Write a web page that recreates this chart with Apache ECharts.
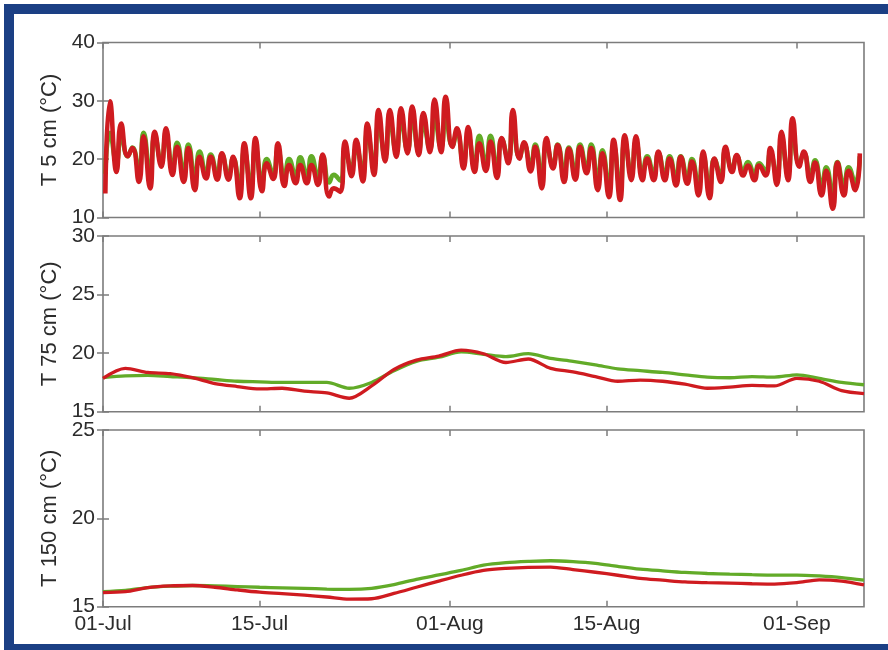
<!DOCTYPE html>
<html>
<head>
<meta charset="utf-8">
<script src="https://cdn.jsdelivr.net/npm/echarts@6/dist/echarts.min.js"></script>
<style>
  html, body { margin: 0; padding: 0; background: #ffffff; overflow: hidden; }
  #chart { width: 888px; height: 650px; }
</style>
</head>
<body>
<div id="chart"></div>
<script>
// Time axis: days counted from 01-Jul
const tickDays = [0, 14, 31, 45, 62];
const tickLabels = ['01-Jul', '15-Jul', '01-Aug', '15-Aug', '01-Sep'];
const depthNames = ['T 5 cm (°C)', 'T 75 cm (°C)', 'T 150 cm (°C)'];

// 5 cm depth: daily minimum (early morning) and maximum (afternoon), 01-Jul .. 06-Sep
const red5Min = [14.1, 17.8, 20.5, 16.1, 15.0, 18.7, 17.3, 16.1, 14.7, 16.7,
                 16.5, 16.5, 13.3, 13.3, 14.5, 16.6, 15.4, 15.9, 15.9, 15.6,
                 13.6, 14.4, 17.1, 16.2, 17.3, 19.6, 20.4, 21.0, 20.7, 21.2,
                 21.2, 22.1, 18.4, 17.8, 18.0, 16.8, 19.3, 20.1, 17.9, 15.0,
                 18.4, 16.1, 16.5, 17.6, 14.7, 13.5, 13.0, 16.4, 16.4, 16.4,
                 16.4, 15.5, 15.8, 13.8, 13.3, 16.1, 17.8, 17.2, 16.4, 17.2,
                 15.6, 16.4, 18.7, 16.1, 13.8, 11.5, 13.8, 14.7];
const red5Max = [29.9, 26.1, 21.9, 23.9, 24.7, 25.3, 22.1, 21.9, 20.4, 20.4,
                 21.0, 20.4, 22.7, 23.6, 19.3, 22.7, 19.0, 19.0, 19.0, 20.8,
                 15.0, 23.0, 23.3, 26.1, 28.4, 28.4, 28.7, 29.0, 27.9, 30.2,
                 30.7, 25.3, 25.5, 22.7, 23.0, 23.6, 28.4, 22.9, 22.1, 23.6,
                 22.4, 21.8, 22.1, 21.9, 21.0, 23.3, 24.1, 23.9, 20.1, 21.3,
                 20.1, 20.4, 19.6, 21.3, 20.1, 22.1, 20.7, 18.9, 18.9, 21.9,
                 24.7, 27.0, 21.3, 19.4, 18.0, 19.4, 18.0, 21.0];
const green5Min = [17.5, 19.5, 20.5, 18.0, 17.5, 19.5, 18.5, 17.8, 16.8, 17.5,
                   17.5, 17.3, 15.5, 15.5, 16.0, 17.5, 17.0, 17.2, 17.2, 17.0,
                   16.0, 16.3, 18.5, 18.0, 19.0, 20.5, 21.3, 21.5, 21.5, 21.8,
                   22.0, 22.3, 19.5, 19.0, 19.2, 18.3, 20.0, 20.3, 19.0, 17.0,
                   19.0, 17.8, 17.8, 18.5, 16.5, 15.5, 15.0, 17.5, 17.5, 17.5,
                   17.3, 16.8, 17.0, 15.5, 15.3, 17.2, 18.3, 18.0, 17.5, 18.0,
                   17.0, 17.5, 19.3, 17.3, 15.5, 13.8, 15.5, 16.0];
const green5Max = [24.5, 24.0, 22.0, 24.5, 24.0, 24.0, 22.8, 22.5, 21.3, 20.8,
                   20.8, 20.2, 21.5, 22.0, 20.0, 21.5, 20.0, 20.3, 20.5, 20.5,
                   17.3, 21.5, 22.0, 24.5, 26.0, 26.5, 26.5, 27.0, 26.0, 27.0,
                   27.0, 24.5, 24.0, 24.0, 24.0, 23.5, 25.5, 22.5, 22.5, 22.5,
                   22.5, 22.0, 22.5, 22.5, 21.5, 22.5, 23.0, 23.0, 20.5, 21.0,
                   20.5, 20.5, 20.0, 20.5, 20.0, 21.5, 20.5, 19.5, 19.3, 21.0,
                   23.0, 24.5, 21.0, 19.8, 18.6, 19.5, 18.6, 20.5];

// 75 cm and 150 cm depth: sampled every two days
const sampleDays = [0, 2, 4, 6, 8, 10, 12, 14, 16, 18, 20, 22, 24, 26, 28, 30, 32, 34,
                    36, 38, 40, 42, 44, 46, 48, 50, 52, 54, 56, 58, 60, 62, 64, 66, 68];
const red75 = [17.85, 18.7, 18.35, 18.25, 17.9, 17.4, 17.15, 16.95, 17.0, 16.75,
               16.6, 16.15, 17.2, 18.6, 19.4, 19.75, 20.25, 19.95, 19.2, 19.5,
               18.7, 18.4, 18.0, 17.6, 17.7, 17.6, 17.35, 17.0, 17.1, 17.25,
               17.2, 17.85, 17.6, 16.8, 16.55];
const green75 = [17.9, 18.05, 18.1, 18.0, 17.9, 17.75, 17.6, 17.55, 17.5, 17.5,
                 17.5, 17.0, 17.5, 18.5, 19.3, 19.65, 20.1, 19.9, 19.7, 19.95,
                 19.55, 19.3, 19.0, 18.65, 18.5, 18.35, 18.15, 17.95, 17.9, 18.0,
                 17.95, 18.15, 17.85, 17.5, 17.3];
const red150 = [15.8, 15.85, 16.08, 16.18, 16.2, 16.1, 15.95, 15.82, 15.74, 15.65,
                15.55, 15.43, 15.45, 15.75, 16.1, 16.45, 16.78, 17.05, 17.17, 17.23,
                17.24, 17.1, 16.95, 16.78, 16.6, 16.5, 16.4, 16.36, 16.33, 16.3,
                16.28, 16.36, 16.52, 16.45, 16.23];
const green150 = [15.85, 15.92, 16.08, 16.16, 16.2, 16.18, 16.14, 16.1, 16.07, 16.04,
                  16.0, 15.98, 16.04, 16.25, 16.55, 16.8, 17.05, 17.35, 17.49, 17.56,
                  17.6, 17.55, 17.45, 17.28, 17.13, 17.03, 16.94, 16.88, 16.84, 16.81,
                  16.79, 16.79, 16.74, 16.65, 16.5];

const RED = '#cf1b20';
const GREEN = '#62ab28';
const FONT = 'Liberation Sans, Arial, sans-serif';
const TEXT = '#2c2c2c';
const FRAME = '#7c7c7c';

// pair daily extremes with their time of day (min ~05:00, max ~15:00)
function diurnal(mins, maxs) {
  const out = [];
  mins.forEach((v, i) => {
    out.push([i + 0.21, v]);
    out.push([i + 0.625, maxs[i]]);
  });
  return out;
}
function pairs(days, vals) { return days.map((d, i) => [d, vals[i]]); }

const panels = [
  { top: 42.5, height: 175, min: 10, max: 40, interval: 10, width: 4.6,
    green: diurnal(green5Min, green5Max), red: diurnal(red5Min, red5Max), smooth: 0.55 },
  { top: 236, height: 175.7, min: 15, max: 30, interval: 5, width: 3.3,
    green: pairs(sampleDays, green75), red: pairs(sampleDays, red75), smooth: 0.3 },
  { top: 430, height: 176.7, min: 15, max: 25, interval: 5, width: 3.3,
    green: pairs(sampleDays, green150), red: pairs(sampleDays, red150), smooth: 0.3 }
];

const grid = [], xAxis = [], yAxis = [], series = [];
panels.forEach((p) => {
  grid.push({ left: 103, width: 761, top: p.top, height: p.height, show: true,
              borderColor: FRAME, borderWidth: 1.6, backgroundColor: 'transparent' });
});
// bottom x axes (labels only on the last panel)
panels.forEach((p, i) => {
  xAxis.push({
    type: 'value', gridIndex: i, min: 0, max: 68, position: 'bottom',
    axisLine: { show: false }, splitLine: { show: false },
    axisTick: { inside: true, length: 6, customValues: tickDays, lineStyle: { color: FRAME, width: 1.5 } },
    axisLabel: { show: i === 2, customValues: tickDays, margin: 7,
                 fontSize: 21, fontFamily: FONT, color: TEXT,
                 formatter: v => tickLabels[tickDays.indexOf(v)] }
  });
});
// top x axes: ticks only
panels.forEach((p, i) => {
  xAxis.push({
    type: 'value', gridIndex: i, min: 0, max: 68, position: 'top',
    axisLine: { show: false }, splitLine: { show: false },
    axisTick: { inside: true, length: 6, customValues: tickDays, lineStyle: { color: FRAME, width: 1.5 } },
    axisLabel: { show: false }
  });
});
// left y axes with labels and names
panels.forEach((p, i) => {
  yAxis.push({
    type: 'value', gridIndex: i, min: p.min, max: p.max, interval: p.interval, position: 'left',
    name: depthNames[i], nameLocation: 'middle', nameGap: 41,
    nameTextStyle: { fontSize: 22, fontFamily: FONT, color: TEXT },
    axisLine: { show: false }, splitLine: { show: false },
    axisTick: { inside: true, length: 6, lineStyle: { color: FRAME, width: 1.5 } },
    axisLabel: { fontSize: 21, fontFamily: FONT, color: TEXT, margin: 8 }
  });
});
// right y axes: ticks only
panels.forEach((p, i) => {
  yAxis.push({
    type: 'value', gridIndex: i, min: p.min, max: p.max, interval: p.interval, position: 'right',
    axisLine: { show: false }, splitLine: { show: false },
    axisTick: { inside: true, length: 6, lineStyle: { color: FRAME, width: 1.5 } },
    axisLabel: { show: false }
  });
});
panels.forEach((p, i) => {
  series.push({ type: 'line', xAxisIndex: i, yAxisIndex: i, data: p.green, showSymbol: false,
                smooth: p.smooth, lineStyle: { color: GREEN, width: p.width }, z: 2, animation: false });
  series.push({ type: 'line', xAxisIndex: i, yAxisIndex: i, data: p.red, showSymbol: false,
                smooth: p.smooth, lineStyle: { color: RED, width: p.width }, z: 3, animation: false });
});

const chart = echarts.init(document.getElementById('chart'), null, { renderer: 'canvas' });
chart.setOption({
  backgroundColor: '#ffffff',
  animation: false,
  grid, xAxis, yAxis, series,
  graphic: [
    { type: 'rect', shape: { x: 4, y: 4, width: 884, height: 10 }, style: { fill: '#1b3f84' } },
    { type: 'rect', shape: { x: 4, y: 4, width: 10, height: 646 }, style: { fill: '#1b3f84' } },
    { type: 'rect', shape: { x: 4, y: 644, width: 884, height: 6 }, style: { fill: '#1b3f84' } }
  ]
});
</script>
</body>
</html>
